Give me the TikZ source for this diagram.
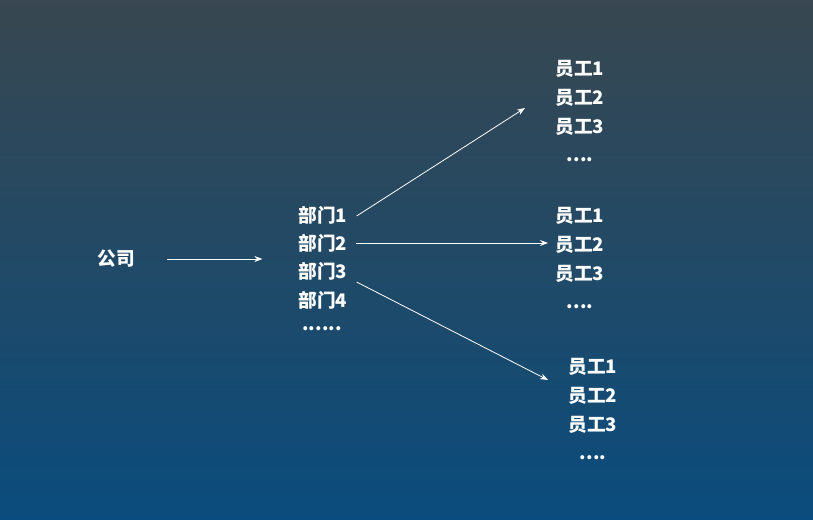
\documentclass[tikz,border=0pt]{standalone}
\usepackage{fontspec}
\setmainfont{Noto Sans CJK SC}
\usetikzlibrary{arrows.meta}
\definecolor{BgTop}{RGB}{56,71,80}
\definecolor{BgBottom}{RGB}{10,76,125}

\tikzset{%
        every node/.style = {font = \fontsize{14pt}{21.6pt}\selectfont\bfseries, text = white, inner sep = 0pt},
        entity/.style = {},
        group/.style = {},
        flow/.style = {-{Stealth[length = 6pt, width = 4.5pt]}, draw = white, line width = 0.6pt}
    }

\begin{document}
\begin{tikzpicture}[x = 0.75pt, y = -0.75pt]
				\shade[top color = BgTop, bottom color = BgBottom]	(0,0) rectangle (813,520);

				\node[entity]	(company)	at (116,259)	{公司};

				\node[group]	(dept1)		at (323,215)	{部门1};
				\node[group]	(dept2)		at (323,243)	{部门2};
				\node[group]	(dept3)		at (323,271)	{部门3};
				\node[group]	(dept4)		at (323,300)	{部门4};
				\node[group]	(deptmore)	at (322,329)	{......};

				\node[entity]	(staffA)	at (580,113)	{\begin{tabular}{c}员工1\\员工2\\员工3\\....\end{tabular}};
				\node[entity]	(staffB)	at (580,260)	{\begin{tabular}{c}员工1\\员工2\\员工3\\....\end{tabular}};
				\node[entity]	(staffC)	at (593,411)	{\begin{tabular}{c}员工1\\员工2\\员工3\\....\end{tabular}};

				% arrow tips
				\coordinate	(tipA)	at (525,108);
				\coordinate	(tipB)	at (548,243);
				\coordinate	(tipC)	at (548,380);

				\draw[flow]	([xshift = 24]company.east)		-- ([xshift = -27]company.east -| dept2.west);
				\draw[flow]	([shift = {(9,1)}]dept1.east)	-- (tipA);
				\draw[flow]	([xshift = 6]dept2.east)		-- (tipB);
				\draw[flow]	([shift = {(9,11)}]dept3.east)	-- (tipC);
			\end{tikzpicture}
\end{document}
